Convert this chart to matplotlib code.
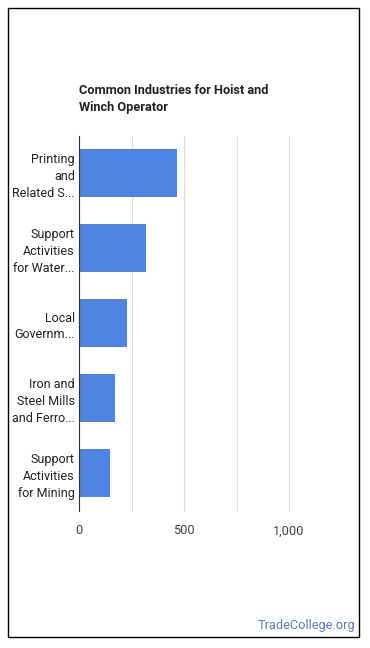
import matplotlib
matplotlib.use("Agg")
import matplotlib.pyplot as plt
from matplotlib.patches import Rectangle

categories = ["Printing\nand\nRelated S...", "Support\nActivities\nfor Water...",
              "Local\nGovernm...", "Iron and\nSteel Mills\nand Ferro...",
              "Support\nActivities\nfor Mining"]
values = [468, 319, 229, 171, 148]
xticks = [0, 250, 500, 750, 1000]
xticklabels = ["0", "", "500", "", "1,000"]
title = "Common Industries for Hoist and\nWinch Operator"

plt.rcParams['font.family'] = ['Roboto', 'DejaVu Sans']
W, H = 370, 648
fig = plt.figure(figsize=(W/100, H/100), dpi=100)

fig.patches.append(Rectangle((8/W, 1 - 637/H), 351/W, 629/H, transform=fig.transFigure,
                             fill=False, edgecolor='black', linewidth=1))

ax = fig.add_axes([79/W, 1 - 510.5/H, 210/W, 375/H])
y = list(range(len(categories)))
ax.barh(y, values, height=0.63, color='#4f84e2', zorder=3)
ax.set_ylim(len(categories) - 0.5, -0.5)
ax.set_xlim(0, 1000)
ax.set_xticks(xticks)
ax.set_xticklabels(xticklabels)
ax.grid(axis='x', color='#dddddd', linewidth=0.8, zorder=0)
for gl in ax.get_xgridlines():
    gl.set_clip_on(False)
ax.set_yticks(y)
ax.set_yticklabels(categories, ha='right', fontsize=9, color='#222222', linespacing=1.38)
ax.tick_params(axis='y', length=0, pad=3)
ax.tick_params(axis='x', length=0, pad=10, labelsize=9.2, labelcolor='#444444')
for s in ['top', 'right', 'bottom']:
    ax.spines[s].set_visible(False)
ax.spines['left'].set_color('#333333')
ax.spines['left'].set_zorder(4)

fig.text(79/W, 1 - 84/H, title, ha='left', va='top', fontsize=9.2, fontweight='bold',
         color='#222222', linespacing=1.35)
fig.text(355/W, 1 - 626/H, "TradeCollege.org", ha='right', va='center', fontsize=9.2,
         color='#5b7bc4')

fig.savefig("out.png", dpi=100)
